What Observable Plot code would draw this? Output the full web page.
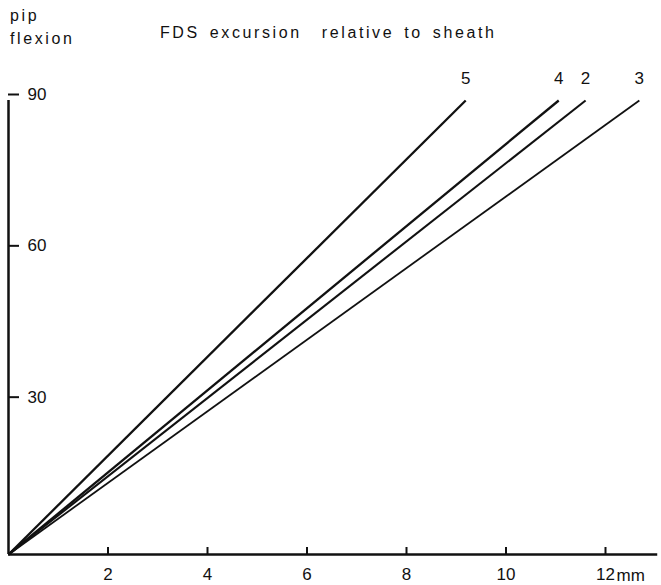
<!DOCTYPE html>
<html>
<head>
<meta charset="utf-8">
<script src="https://cdn.jsdelivr.net/npm/d3@7"></script>
<script src="https://cdn.jsdelivr.net/npm/@observablehq/plot@0.6"></script>
<style>
  html, body { margin: 0; padding: 0; background: #fff; }
  #wrap { position: relative; width: 661px; height: 585px; }
  .t { position: absolute; font-family: "Liberation Sans", Arial, sans-serif; font-size: 16px; line-height: 15px; color: #111; letter-spacing: 2.6px; word-spacing: 3px; white-space: nowrap; }
  svg { position: absolute; left: 0; top: 0; }
</style>
</head>
<body>
<div id="wrap">
  <div class="t" style="left:10px; top:8px;">pip</div>
  <div class="t" style="left:10px; top:31px;">flexion</div>
  <div class="t" style="left:160px; top:25px;">FDS excursion&nbsp; relative to sheath</div>
</div>
<script>
// Series labels, excursion (mm) at 90° pip flexion
const seriesNames = ["5", "4", "2", "3"];
const excursionAt90 = [9.19, 11.06, 11.6, 12.68];
const flexionEnd = [90, 90, 90, 90];
const lineWidths = [2.3, 2.3, 2.1, 1.8];
// axis ticks
const xTicks = [2, 4, 6, 8, 10, 12];
const yTicks = [30, 60, 90];
const xUnit = "mm";

const rows = [];
seriesNames.forEach((s, i) => {
  rows.push({series: s, x: 0, y: 0});
  rows.push({series: s, x: excursionAt90[i], y: flexionEnd[i]});
});
const ends = seriesNames.map((s, i) => ({series: s, x: excursionAt90[i], y: flexionEnd[i]}));

const font = "Liberation Sans, Arial, sans-serif";

const chart = Plot.plot({
  width: 661,
  height: 585,
  marginTop: 100,
  marginBottom: 31,
  marginLeft: 8,
  marginRight: 56,
  style: {fontFamily: font, fontSize: "17px", color: "#111", background: "transparent"},
  x: {domain: [0, 12]},
  y: {domain: [0, 90]},
  marks: [
    Plot.ruleY([0], {x1: 0, x2: 13.05, stroke: "#111", strokeWidth: 2.5}),
    Plot.ruleX([0], {y1: 0, y2: 90, stroke: "#111", strokeWidth: 2.5}),
    Plot.axisX(xTicks, {
      anchor: "bottom",
      label: null,
      tickSize: -7,
      tickPadding: 20,
      strokeWidth: 2,
      tickFormat: d => String(d),
      fontSize: 17,
      letterSpacing: 2
    }),
    Plot.text([xUnit], {x: () => 12, y: () => 0, text: d => d, dx: 11, dy: 21, textAnchor: "start", fontSize: 17, letterSpacing: 1.5, fill: "#111"}),
    Plot.axisY(yTicks, {
      anchor: "left",
      label: null,
      tickSize: -11,
      tickPadding: -8,
      textAnchor: "start",
      dy: -6,
      strokeWidth: 2,
      fontSize: 17,
      letterSpacing: 1
    }),
    ...seriesNames.map((s, i) => Plot.line(rows.filter(r => r.series === s), {
      x: "x", y: "y", stroke: "#111", strokeWidth: lineWidths[i], strokeLinecap: "butt"
    })),
    Plot.text(ends, {x: "x", y: "y", text: "series", dy: -22, fontSize: 17, fill: "#111"})
  ]
});
document.getElementById("wrap").appendChild(chart);
</script>
</body>
</html>
